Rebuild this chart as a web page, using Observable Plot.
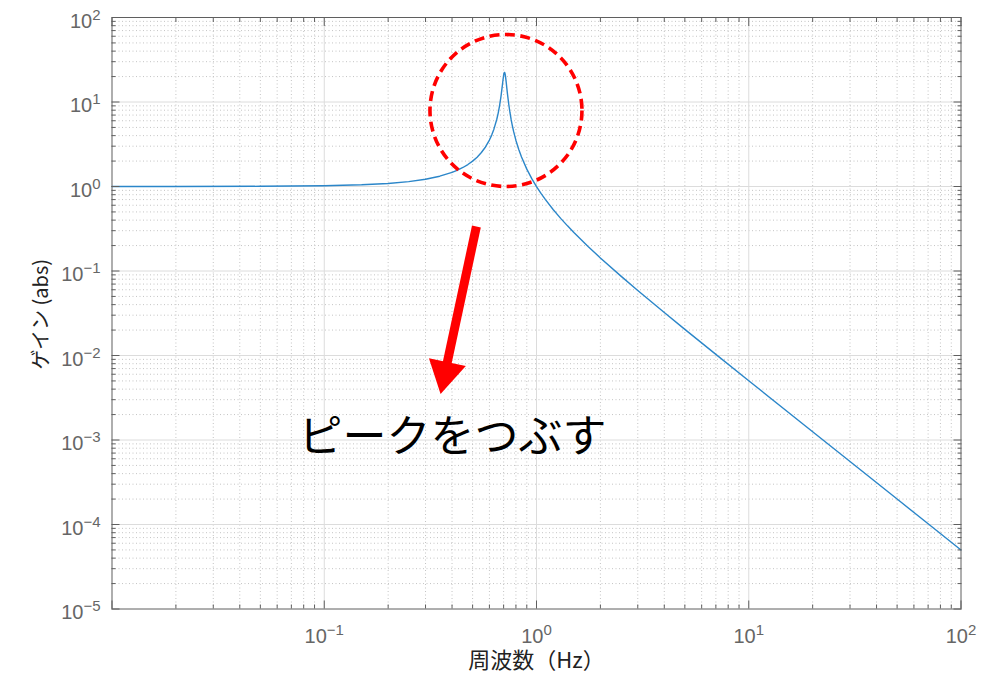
<!DOCTYPE html>
<html>
<head>
<meta charset="utf-8">
<script src="https://cdn.jsdelivr.net/npm/d3@7"></script>
<script src="https://cdn.jsdelivr.net/npm/@observablehq/plot@0.6"></script>
<style>
  html, body { margin: 0; padding: 0; background: #fff; }
  #chart svg { display: block; }
</style>
</head>
<body>
<div id="chart"></div>
<script>
// ---- data (frequency response, log-log) ----
const freqHz = [0.01, 0.02, 0.05, 0.1, 0.15, 0.2, 0.25, 0.3, 0.35, 0.4, 0.425, 0.45, 0.475, 0.5, 0.525, 0.55, 0.575,
  0.6, 0.615, 0.63, 0.65, 0.66, 0.67, 0.68, 0.69, 0.695, 0.7, 0.702, 0.705, 0.707, 0.709, 0.712, 0.715, 0.72, 0.725,
  0.73, 0.74, 0.75, 0.76, 0.77, 0.78, 0.8, 0.825, 0.85, 0.9, 0.95, 1, 1.05, 1.1, 1.2, 1.3, 1.4, 1.5, 1.75,
  2, 2.5, 3, 4, 5, 7, 10, 20, 30, 50, 70, 100];
const gainAbs = [1.000, 1.001, 1.005, 1.020, 1.047, 1.087, 1.143, 1.220, 1.324, 1.471, 1.565, 1.679, 1.820, 1.997, 2.223, 2.523, 2.937,
  3.543, 4.058, 4.769, 6.249, 7.401, 9.064, 11.59, 15.52, 18.09, 20.68, 21.52, 22.31, 22.42, 22.18, 21.23, 19.79, 17.05, 14.51,
  12.41, 9.404, 7.464, 6.144, 5.198, 4.491, 3.510, 2.737, 2.229, 1.605, 1.238, 0.9974, 0.8282, 0.7038, 0.5312, 0.4197, 0.3422, 0.2855, 0.1951,
  0.1428, 0.08693, 0.05881, 0.03225, 0.02040, 0.01031, 0.005024, 0.001251, 0.0005557, 0.0002000, 0.0001020, 0.00005000];

const xLabelTicks = [0.1, 1, 10, 100];
const yLabelTicks = [1e-5, 1e-4, 1e-3, 1e-2, 1e-1, 1, 10, 100];
const xMajorTicks = [0.01, 0.1, 1, 10, 100];
const yMajorTicks = [1e-5, 1e-4, 1e-3, 1e-2, 1e-1, 1, 10, 100];
const xDecades = [0.01, 0.1, 1, 10];
const yDecades = [1e-5, 1e-4, 1e-3, 1e-2, 1e-1, 1, 10];
const minorSteps = [2, 3, 4, 5, 6, 7, 8, 9];

const xAxisTitle = "周波数（Hz）";
const yAxisTitle = "ゲイン (abs)";

// annotations (placed in data coordinates)
const peakCircle = [{f: 0.718, g: 7.93}];
const arrowShaft = [{f1: 0.521, g1: 0.336, f2: 0.377, g2: 0.0076}];
const arrowHead = [{f: 0.371, g: 0.00624}];
const annotation = [{f: 0.402, g: 0.00107, label: "ピークをつぶす"}];

// ---- derived ----
const curve = freqHz.map((f, i) => ({f, g: gainAbs[i]}));
const xMinor = xDecades.flatMap(d => minorSteps.map(s => +(d * s).toPrecision(3)));
const yMinor = yDecades.flatMap(d => minorSteps.map(s => +(d * s).toPrecision(3)));
const xGridMajor = [0.1, 1, 10];
const yGridMajor = [1e-4, 1e-3, 1e-2, 1e-1, 1, 10];

const frameColor = "#5f5f5f";
const labelColor = "#666666";
const cjk = "'Noto Sans CJK JP', sans-serif";
const latin = "'Liberation Sans', Arial, sans-serif";
const blank = () => "";
const expFmt = d => `10^${Math.round(Math.log10(d))}`;

const chart = Plot.plot({
  width: 999,
  height: 674,
  marginLeft: 111.5,
  marginRight: 38.5,
  marginTop: 17,
  marginBottom: 65.5,
  style: {fontFamily: latin, background: "white", overflow: "visible"},
  x: {type: "log", domain: [0.01, 100]},
  y: {type: "log", domain: [1e-5, 100]},
  marks: [
    Plot.gridX(xMinor, {stroke: "#c4c4c4", strokeOpacity: 1, strokeWidth: 1, strokeDasharray: "1,2.5"}),
    Plot.gridY(yMinor, {stroke: "#c4c4c4", strokeOpacity: 1, strokeWidth: 1, strokeDasharray: "1,2.5"}),
    Plot.gridX(xGridMajor, {stroke: "#dcdcdc", strokeOpacity: 1, strokeWidth: 1}),
    Plot.gridY(yGridMajor, {stroke: "#dcdcdc", strokeOpacity: 1, strokeWidth: 1}),
    Plot.line(curve, {x: "f", y: "g", stroke: "#2b86c9", strokeWidth: 1.4}),
    Plot.frame({stroke: frameColor, strokeWidth: 1}),
    ...["bottom", "top"].flatMap(anchor => [
      Plot.axisX(xMajorTicks, {anchor, tickSize: -8, tickFormat: blank, label: null, stroke: frameColor}),
      Plot.axisX(xMinor, {anchor, tickSize: -4, tickFormat: blank, label: null, stroke: frameColor})
    ]),
    ...["left", "right"].flatMap(anchor => [
      Plot.axisY(yMajorTicks, {anchor, tickSize: -8, tickFormat: blank, label: null, stroke: frameColor}),
      Plot.axisY(yMinor, {anchor, tickSize: -4, tickFormat: blank, label: null, stroke: frameColor})
    ]),
    Plot.axisX(xLabelTicks, {anchor: "bottom", tickSize: 0, tickPadding: 20, tickFormat: expFmt, label: null, fontSize: 20, fill: labelColor}),
    Plot.axisY(yLabelTicks, {anchor: "left", tickSize: 0, tickPadding: 11.5, dy: 4, tickFormat: expFmt, label: null, fontSize: 20, fill: labelColor}),
    Plot.text([xAxisTitle], {frameAnchor: "bottom", textAnchor: "middle", lineAnchor: "middle", dy: 52, fontSize: 22, fontFamily: cjk, fill: "#222"}),
    Plot.text([yAxisTitle], {frameAnchor: "left", textAnchor: "middle", lineAnchor: "middle", rotate: -90, dx: -70, dy: 1, fontSize: 20, fontFamily: cjk, fill: "#222"}),
    // annotations
    Plot.dot(peakCircle, {x: "f", y: "g", r: 76, fill: "none", stroke: "#ff0000", strokeWidth: 3.6, strokeDasharray: "10,5.5"}),
    Plot.link(arrowShaft, {x1: "f1", y1: "g1", x2: "f2", y2: "g2", stroke: "#ff0000", strokeWidth: 9}),
    Plot.dot(arrowHead, {x: "f", y: "g", symbol: "triangle", rotate: 192, r: 14, fill: "#ff0000", stroke: "none"}),
    Plot.text(annotation, {x: "f", y: "g", text: "label", fontSize: 44, fontFamily: cjk, fill: "#000"})
  ]
});

// turn "10^k" tick labels into real superscripts
const svgNS = "http://www.w3.org/2000/svg";
chart.querySelectorAll('g[aria-label$="tick label"] text').forEach(t => {
  const m = /^10\^(-?\d+)$/.exec(t.textContent);
  if (!m) return;
  t.textContent = "10";
  const sup = document.createElementNS(svgNS, "tspan");
  sup.setAttribute("dy", "-8");
  sup.setAttribute("font-size", "15");
  sup.textContent = m[1].replace("-", "\u2212");
  t.appendChild(sup);
});

document.getElementById("chart").appendChild(chart);
</script>
</body>
</html>
